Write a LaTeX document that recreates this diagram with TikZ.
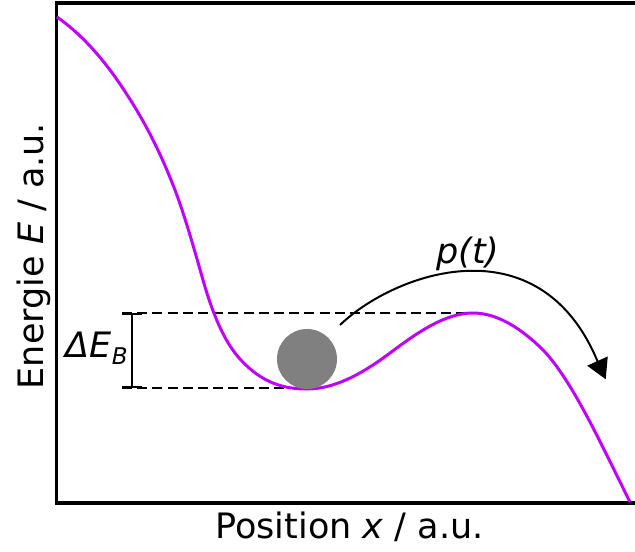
\documentclass[tikz,border=0pt]{standalone}
\usepackage{fontspec}
\setmainfont{DejaVu Sans}
\definecolor{potviolet}{RGB}{191,0,255}
\definecolor{ballgray}{RGB}{128,128,128}
\usetikzlibrary{arrows.meta,positioning}

\begin{document}
\begin{tikzpicture}[x=0.5pt,y=-0.5pt,font=\fontsize{17.5}{20}\selectfont]
  \useasboundingbox (0,0) rectangle (635,551);
  % Axes frame
  \draw[line width=1.6pt] (636,3) -- (56.5,3) -- (56.5,503) -- (636,503);
  % Axis labels
  \node[anchor=base] (xlab) at (349.5,538) {Position \textit{x} / a.u.};
  \node[anchor=base,rotate=90] (ylab) at (43,256) {Energie \textit{E} / a.u.};
  % Barrier levels
  \coordinate (top) at (122,313);
  \coordinate (topend) at (480,313);
  \coordinate (bot) at (122,388);
  \coordinate (botend) at (308,388);
  \draw[line width=1pt,dash pattern=on 5pt off 2.6pt] (top) -- (topend);
  \draw[line width=1pt,dash pattern=on 5pt off 2.6pt] (bot) -- (botend);
  % Potential curve
  \draw[potviolet,line width=1.5pt]
    (57,17) .. controls (78.7,32.2) and (100.3,54.5) .. (122,87)
    .. controls (139.7,113.5) and (157.3,144.1) .. (175,190)
    .. controls (184.3,214.3) and (193.7,247.3) .. (203,280)
    .. controls (215.3,323.2) and (227.7,345.4) .. (240,359)
    .. controls (262.3,383.6) and (284.7,389) .. (307,389)
    .. controls (334.7,389) and (362.3,373.75) .. (390,353)
    .. controls (417.7,332.25) and (445.3,313) .. (473,313)
    .. controls (495.3,313) and (517.7,325.8) .. (540,347)
    .. controls (570,375.5) and (600,442) .. (630,502);
  % Particle
  \node[circle,fill=ballgray,minimum size=30pt,inner sep=0pt] (ball) at (307,359) {};
  % Barrier height
  \coordinate (bartop) at (132,313);
  \coordinate (barbot) at (132,388);
  \draw[line width=0.9pt,{Bar[width=10pt]}-{Bar[width=10pt]}] (bartop) -- (barbot);
  \node[anchor=base east,inner sep=0pt] (dEB) at (128,357)
    {\textit{ΔE}\raisebox{-3.5pt}{\fontsize{11.5}{13}\selectfont\textit{B}}};
  % Escape path
  \coordinate (pstart) at (340,325);
  \coordinate (pbase) at (597,360);
  \coordinate (pend) at (605.7,379.3);
  \draw[line width=1pt,-{Triangle[length=10pt,width=11pt]}]
    (pstart) .. controls (394,273) and (538,221) .. (pbase) -- (pend);
  \node (plab) at (468,254) {\textit{p(t)}};
\end{tikzpicture}
\end{document}
